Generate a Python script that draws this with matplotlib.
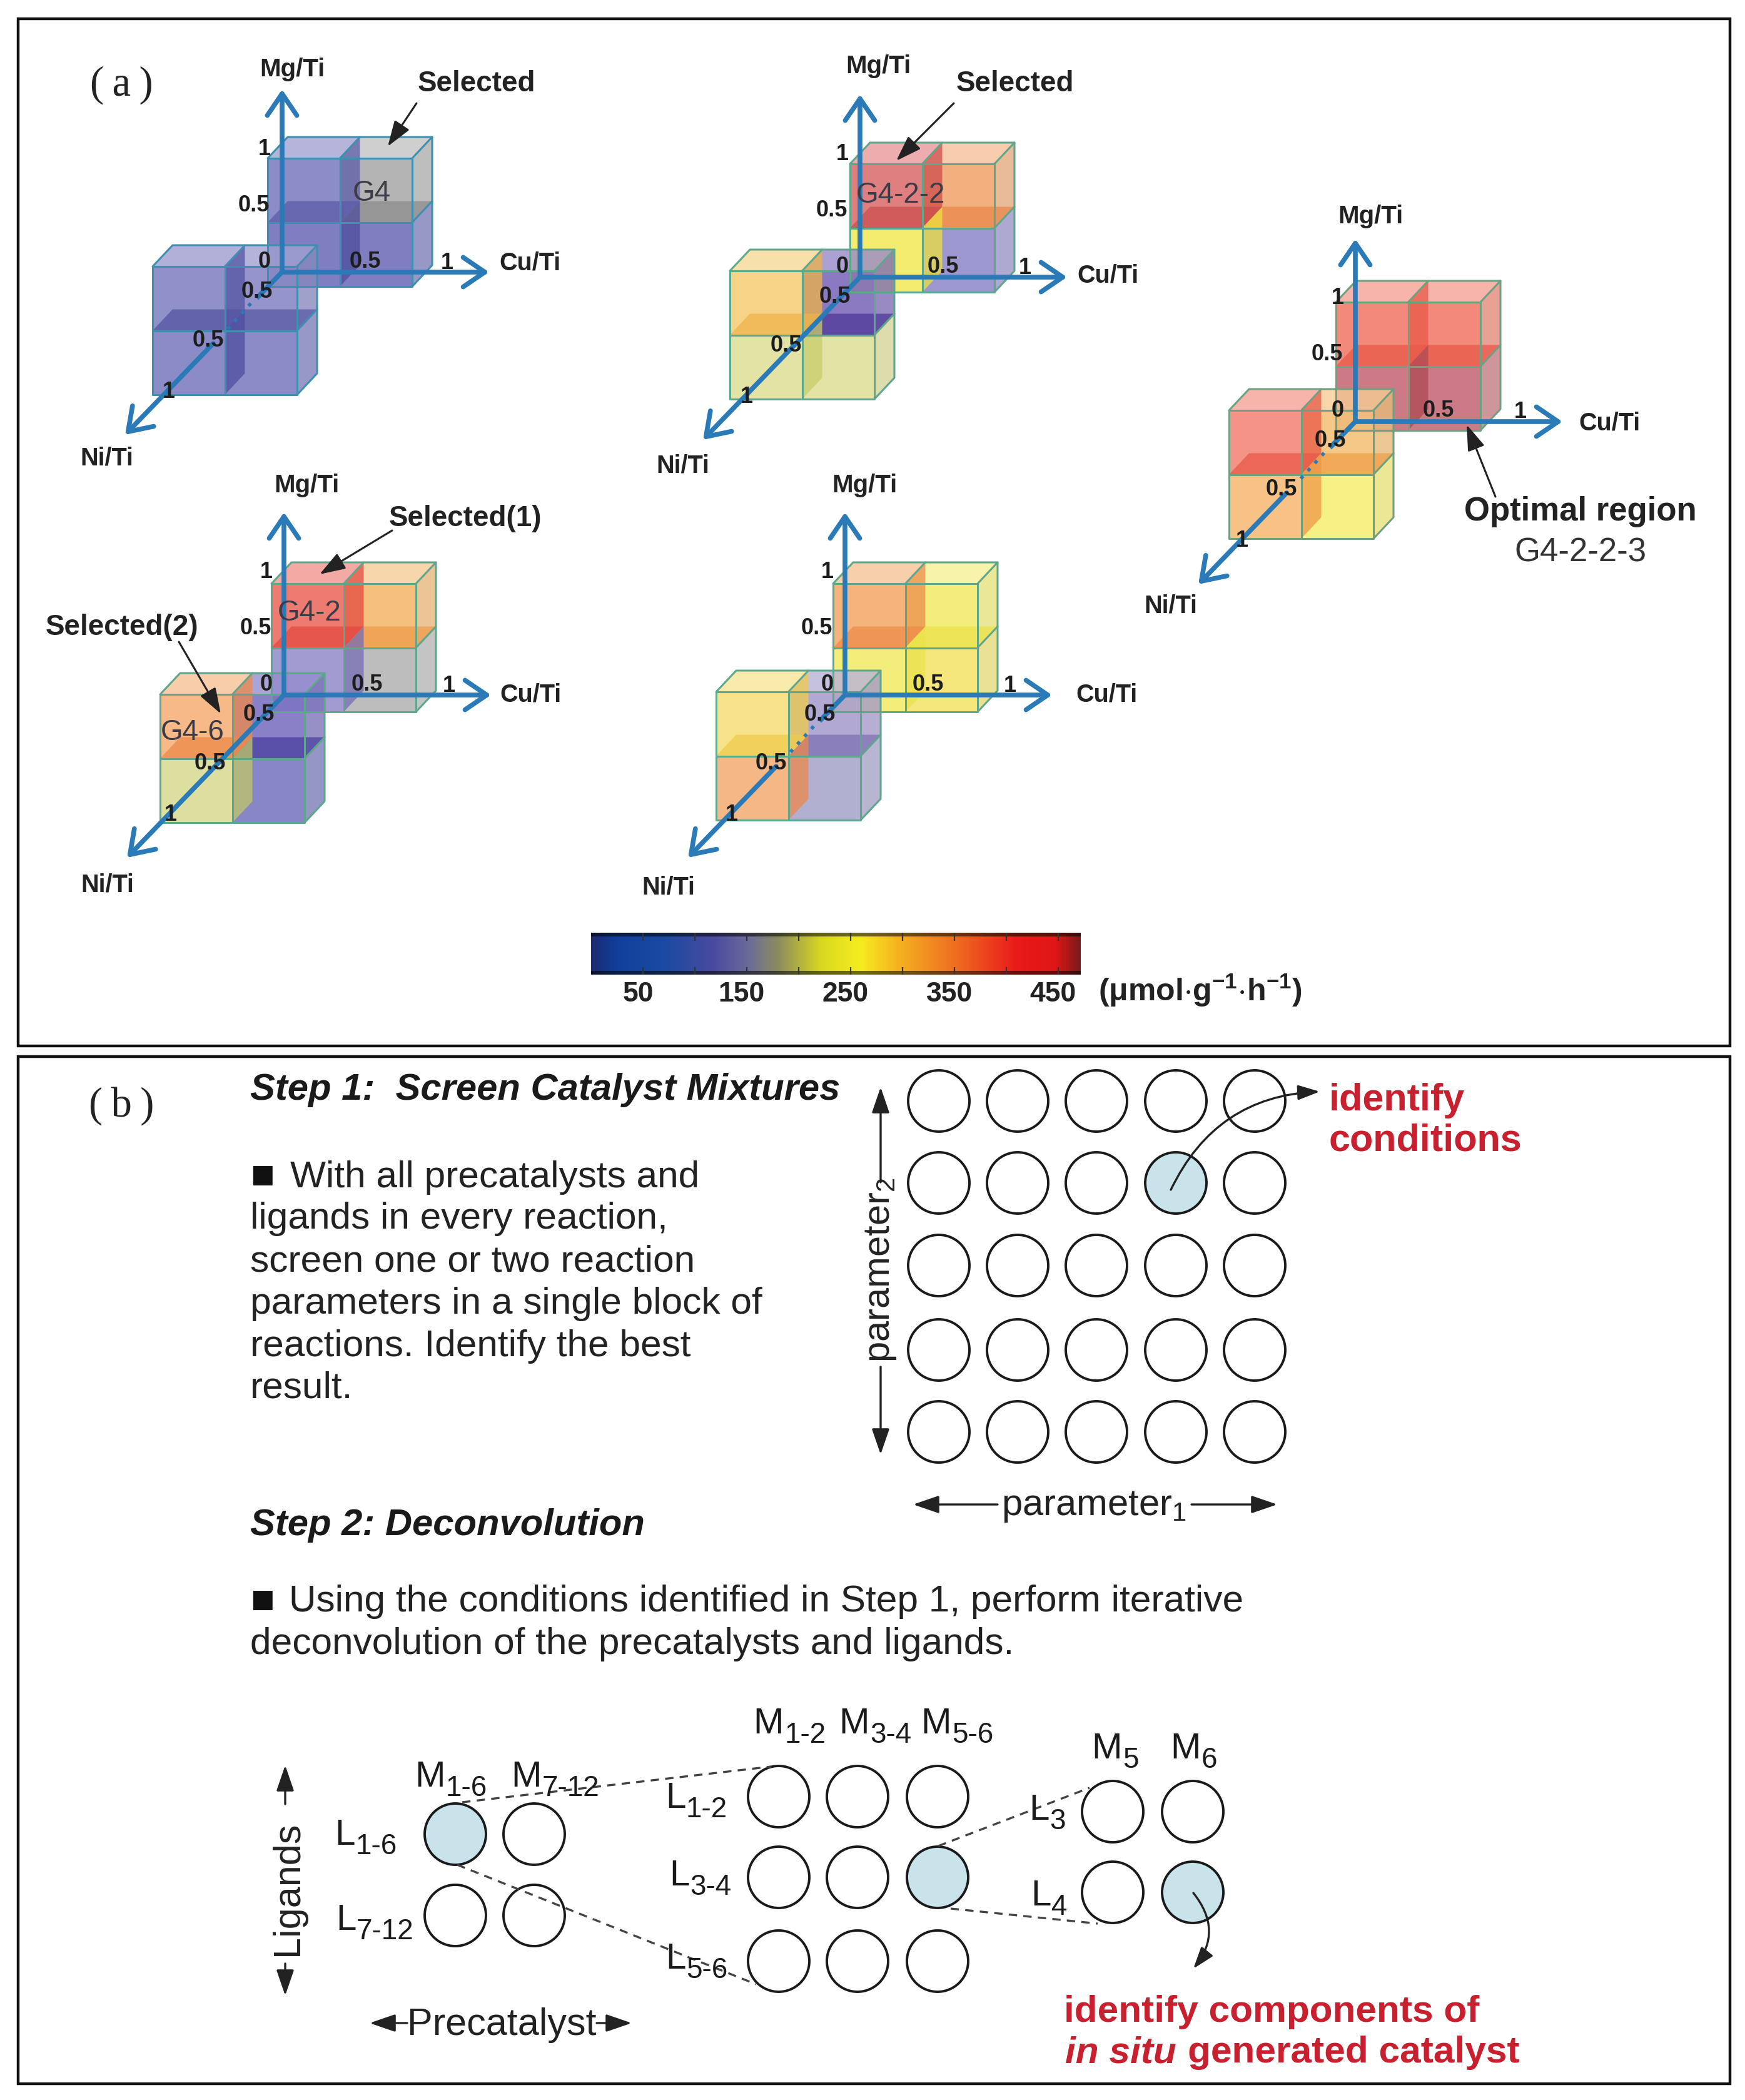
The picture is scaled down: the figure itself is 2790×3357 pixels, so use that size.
import numpy as np
import matplotlib
matplotlib.use('Agg')
import matplotlib.pyplot as plt
from matplotlib.patches import Polygon, Circle, FancyArrowPatch, Rectangle
from matplotlib.colors import LinearSegmentedColormap, Normalize, to_rgb
from matplotlib.cm import ScalarMappable
from matplotlib.transforms import ScaledTranslation

plt.rcParams['font.family'] = ['Liberation Sans', 'DejaVu Sans']
plt.rcParams['mathtext.fontset'] = 'custom'
plt.rcParams['mathtext.rm'] = 'Liberation Sans'
plt.rcParams['mathtext.bf'] = 'Liberation Sans:bold'
plt.rcParams['mathtext.it'] = 'Liberation Sans:italic'
plt.rcParams['mathtext.default'] = 'regular'

W, H = 2790, 3357

#---------------------------------------------------------------------------------
# panel (a): five pairs of cubes, cell colours are UL, UR, LL, LR of each cube
#---------------------------------------------------------------------------------
origins = [(451, 435), (1375, 443), (2167, 674), (454, 1111), (1351, 1111)]
upper_corner = [(428, 253), (1359, 262), (2136, 483), (434, 933), (1332, 933)]
lower_corner = [(244, 426), (1167, 433), (1965, 656), (256, 1110), (1145, 1106)]
upper_cells = [
    ['#8c8cc8', '#b4b4b4', '#7e7ec0', '#7e7ec0'],
    ['#e07f7f', '#f2b07e', '#f3ec6e', '#9d97d0'],
    ['#f2897a', '#f2897a', '#cc7a85', '#cc7a85'],
    ['#ee7b72', '#f5bf7c', '#a19bd1', '#bdbdbd'],
    ['#f5b47c', '#f3ee7c', '#f3ee7c', '#f5e67c'],
]
lower_cells = [
    ['#8585c4', '#8a8ac6', '#7f7fc2', '#7f7fc2'],
    ['#f5cf7a', '#7f6bbb', '#dfe09a', '#dfe09a'],
    ['#f2897a', '#f5c27a', '#f5bc78', '#f5ef78'],
    ['#f5b27a', '#7c72c2', '#d9dc96', '#7a7ac0'],
    ['#f5df7c', '#a99fcf', '#f5b07a', '#aaa8cc'],
]
edge_colors = ['#3f8fb0', '#5fa78c', '#6fa080', '#5fa78c', '#5fa78c']
dotted_axis = [True, False, True, False, True]
mg_labels = [(467, 111), (1404, 106), (2191, 346), (490, 776), (1382, 776)]
cu_labels = [(847, 421), (1771, 441), (2573, 677), (848, 1110), (1769, 1110)]
ni_labels = [(171, 732), (1092, 745), (1872, 969), (172, 1415), (1069, 1419)]
axis_ticks = ['1', '0.5', '0', '0.5', '1', '0.5', '0.5', '1']
axis_tick_offsets = [(-28, -197), (-45, -107), (-28, -17), (133, -17),
                     (264, -15), (-40, 31), (-118, 109), (-181, 191)]
block_labels = ['G4', 'G4-2-2', 'G4-2', 'G4-6']
block_label_xy = [(594, 309), (1440, 312), (495, 980), (308, 1171)]
callouts = ['Selected', 'Selected', 'Selected(1)', 'Selected(2)']
callout_xy = [(762, 134), (1623, 134), (744, 829), (195, 1003)]
callout_start = [(666, 165), (1525, 165), (627, 848), (286, 1026)]
callout_tip = [(620, 234), (1433, 257), (511, 918), (353, 1141)]

cbar_ticks = [50, 100, 150, 200, 250, 300, 350, 400, 450]
cbar_labels = ['50', '', '150', '', '250', '', '350', '', '450']
cbar_stops = [0, 0.05, 0.15, 0.25, 0.32, 0.38, 0.47, 0.55, 0.63, 0.75, 0.87, 0.95, 1]
cbar_colors = ['#1c2a6e', '#0f3f9b', '#1a4aa0', '#4a4a9f', '#6a6a9a', '#8a8a60', '#d8d820',
               '#f5ec20', '#f5b020', '#ee6a20', '#e81a1a', '#e01515', '#7a1a1a']

#---------------------------------------------------------------------------------
# panel (b)
#---------------------------------------------------------------------------------
step1_lines = ['With all precatalysts and', 'ligands in every reaction,',
               'screen one or two reaction', 'parameters in a single block of',
               'reactions. Identify the best', 'result.']
step1_x = [464, 400, 400, 400, 400, 400]
step1_y = [1882, 1949, 2017, 2084, 2152, 2219]
step2_lines = ['Using the conditions identified in Step 1, perform iterative',
               'deconvolution of the precatalysts and ligands.']
step2_x = [462, 400]
step2_y = [2561, 2629]
bullet_y = [1882, 2561]
grid_x = [1501, 1627, 1753, 1880, 2006]
grid_y = [1760, 1891, 2023, 2158, 2289]
block1_x, block1_y = [728, 854], [2932, 3062]
block2_x, block2_y = [1245, 1371, 1499], [2872, 3001, 3135]
block3_x, block3_y = [1779, 1907], [2896, 3025]
highlighted = [(1880, 1891), (728, 2932), (1499, 3001), (1907, 3025)]
dashed_from = [(739, 2881), (731, 2981), (1500, 2951), (1520, 3051)]
dashed_to = [(1233, 2824), (1209, 3172), (1742, 2858), (1755, 3075)]
m_labels = ['1-6', '7-12', '1-2', '3-4', '5-6', '5', '6']
m_label_xy = [(663, 2856), (817, 2856), (1204, 2771), (1341, 2771), (1472, 2771), (1745, 2811), (1871, 2811)]
l_labels = ['1-6', '7-12', '1-2', '3-4', '5-6', '3', '4']
l_label_xy = [(535, 2949), (537, 3085), (1064, 2890), (1070, 3014), (1064, 3147), (1645, 2909), (1648, 3046)]

AXIS_BLUE = '#2a7ab8'
RED = '#c8202e'
DX, DY = 32, 34
CW, CH = 231, 205
HEAD = '->,head_length=0.5,head_width=0.34'
ARW = '-|>,head_length=0.7,head_width=0.24'


def mix(c, other, t):
    a, b = np.array(to_rgb(c)), np.array(to_rgb(other))
    return tuple(a * (1 - t) + b * t)


def deepen(c):
    return tuple(np.array(to_rgb(c)) ** 1.7)


def draw_cube(ax, left, top, cells, edge, front_alpha):
    xm, ym = left + CW / 2, top + CH / 2
    xs = [left, xm, left + CW]
    ys = [top, ym, top + CH]
    for col in range(2):
        ax.add_patch(Polygon([(xs[col], top), (xs[col] + DX, top - DY), (xs[col + 1] + DX, top - DY), (xs[col + 1], top)],
                             fc=mix(cells[col], 'white', 0.2), ec='none', alpha=0.8, zorder=2))
    for row in range(2):
        ax.add_patch(Polygon([(xs[2], ys[row]), (xs[2] + DX, ys[row] - DY), (xs[2] + DX, ys[row + 1] - DY), (xs[2], ys[row + 1])],
                             fc=mix(cells[2 * row + 1], '#808080', 0.12), ec='none', alpha=0.8, zorder=2))
        for col in range(2):
            ax.add_patch(Rectangle((xs[col], ys[row]), CW / 2, CH / 2, fc=cells[2 * row + col], ec='none',
                                   alpha=front_alpha, zorder=2))
    # inner slabs
    for col in range(2):
        ax.add_patch(Polygon([(xs[col], ym), (xs[col] + DX, ym - DY), (xs[col + 1] + DX, ym - DY), (xs[col + 1], ym)],
                             fc=deepen(cells[col]), ec='none', alpha=0.75, zorder=2))
    for row in range(2):
        ax.add_patch(Polygon([(xm, ys[row]), (xm + DX, ys[row] - DY), (xm + DX, ys[row + 1] - DY), (xm, ys[row + 1])],
                             fc=deepen(cells[2 * row]), ec='none', alpha=0.75, zorder=2))
    # edges
    segs = [[(left, top), (left + CW, top), (left + CW, top + CH), (left, top + CH), (left, top)],
            [(left, ym), (left + CW, ym)], [(xm, top), (xm, top + CH)],
            [(left, top), (left + DX, top - DY), (left + CW + DX, top - DY), (left + CW, top)],
            [(xm, top), (xm + DX, top - DY)],
            [(left + CW + DX, top - DY), (left + CW + DX, top + CH - DY), (left + CW, top + CH)],
            [(left + CW, ym), (left + CW + DX, ym - DY)]]
    for seg in segs:
        p = np.array(seg)
        ax.plot(p[:, 0], p[:, 1], color=edge, lw=2.2, zorder=3, solid_capstyle='round')


def draw_arrow(ax, start, tip, color, lw, style, scale, z=5, conn=None):
    kw = {}
    if conn:
        kw['connectionstyle'] = conn
    ax.add_patch(FancyArrowPatch(start, tip, arrowstyle=style, mutation_scale=scale, color=color, lw=lw,
                                 shrinkA=0, shrinkB=0, zorder=z, **kw))


def sub_label(ax, letter, sub, xy):
    # letter and subscript as two texts, mathtext subscripts come out too small here
    width = {'M': 49, 'L': 32}[letter]
    ax.text(xy[0], xy[1], letter, fontsize=42, color='#1a1a1a', ha='left', va='baseline', zorder=7)
    ax.text(xy[0] + width + 1, xy[1] + 15, sub, fontsize=33, color='#1a1a1a', ha='left', va='baseline', zorder=7)


fig = plt.figure(figsize=(W / 100, H / 100), dpi=100, facecolor='white')
ax = fig.add_axes([0, 0, 1, 1])
ax.set_xlim(0, W)
ax.set_ylim(H, 0)
ax.axis('off')

# panel frames
ax.add_patch(Rectangle((29, 30), 2737, 1642, fc='none', ec='#111111', lw=3.2))
ax.add_patch(Rectangle((29, 1689), 2737, 1642, fc='none', ec='#111111', lw=3.2))
serif = ['Liberation Serif', 'DejaVu Serif']
ax.text(194, 136, '(\u2009a\u2009)', family=serif, fontsize=48, ha='center', va='center', color='#222222')
ax.text(194, 1768, '(\u2009b\u2009)', family=serif, fontsize=48, ha='center', va='center', color='#222222')

# cube groups
for i in range(len(origins)):
    ox, oy = origins[i]
    draw_cube(ax, upper_corner[i][0], upper_corner[i][1], upper_cells[i], edge_colors[i], 1.0)
    draw_cube(ax, lower_corner[i][0], lower_corner[i][1], lower_cells[i], edge_colors[i], 0.9)
    draw_arrow(ax, (ox, oy), (ox, oy - 292), AXIS_BLUE, 5.5, HEAD, 50)
    draw_arrow(ax, (ox, oy), (ox + 331, oy), AXIS_BLUE, 5.5, HEAD, 50)
    tip = (ox - 251, oy + 260)
    if dotted_axis[i]:
        ax.plot([ox, ox - 38], [oy, oy + 39], color=AXIS_BLUE, lw=5.5, zorder=5)
        ax.plot([ox - 50, ox - 88], [oy + 50, oy + 92], color=AXIS_BLUE, lw=4, ls=(0, (1, 2)), zorder=5)
        draw_arrow(ax, (ox - 110, oy + 114), tip, AXIS_BLUE, 5.5, HEAD, 50)
    else:
        draw_arrow(ax, (ox, oy), tip, AXIS_BLUE, 5.5, HEAD, 50)
    for tick, off in zip(axis_ticks, axis_tick_offsets):
        ax.text(ox + off[0], oy + off[1], tick, fontsize=26, fontweight='bold', color='#1d1d1d',
                ha='center', va='center', zorder=6)
    ax.text(mg_labels[i][0], mg_labels[i][1], 'Mg/Ti', fontsize=29, fontweight='bold', color='#222222', ha='center', va='center')
    ax.text(cu_labels[i][0], cu_labels[i][1], 'Cu/Ti', fontsize=28.5, fontweight='bold', color='#222222', ha='center', va='center')
    ax.text(ni_labels[i][0], ni_labels[i][1], 'Ni/Ti', fontsize=28.5, fontweight='bold', color='#222222', ha='center', va='center')

for name, xy in zip(block_labels, block_label_xy):
    ax.text(xy[0], xy[1], name, fontsize=33, color='#3c3c48', ha='center', va='center', zorder=6)
for name, xy, a, b in zip(callouts, callout_xy, callout_start, callout_tip):
    ax.text(xy[0], xy[1], name, fontsize=33, fontweight='bold', color='#222222', ha='center', va='center', zorder=6)
    draw_arrow(ax, a, b, '#222222', 2.2, ARW, 36, z=6)

ax.text(2527, 818, 'Optimal region', fontsize=38, fontweight='bold', color='#222222', ha='center', va='center')
ax.text(2527, 883, 'G4-2-2-3', fontsize=38, color='#333333', ha='center', va='center')
draw_arrow(ax, (2391, 794), (2345, 679), '#222222', 2.2, ARW, 36, z=6)

# colour bar
cmap = LinearSegmentedColormap.from_list('rate', list(zip(cbar_stops, cbar_colors)))
cax = fig.add_axes([945 / W, 1 - 1558 / H, 783 / W, 67 / H])
cb = fig.colorbar(ScalarMappable(norm=Normalize(0, 472), cmap=cmap), cax=cax, orientation='horizontal')
cb.set_ticks(cbar_ticks)
cb.set_ticklabels(cbar_labels)
cb.outline.set_visible(False)
cax.tick_params(axis='x', top=True, bottom=True, direction='in', color='#333333', width=1.6, length=9, pad=8,
                labelsize=32)
for lab in cax.get_xticklabels():
    lab.set_fontweight('bold')
    lab.set_color('#222222')
    lab.set_transform(lab.get_transform() + ScaledTranslation(-0.08, 0, fig.dpi_scale_trans))
cax.add_patch(Rectangle((0, 0), 1, 0.09, transform=cax.transAxes, fc='black', alpha=0.55, ec='none'))
cax.add_patch(Rectangle((0, 0.91), 1, 0.09, transform=cax.transAxes, fc='black', alpha=0.55, ec='none'))
ax.text(1756, 1583, r'($\mathbf{\mu}$mol$\cdot$g$^{-1}$$\cdot$h$^{-1}$)', fontsize=36, fontweight='bold',
        color='#222222', ha='left', va='center')

# panel b text
ax.text(400, 1742, 'Step 1:  Screen Catalyst Mixtures', fontsize=43, fontweight='bold', style='italic',
        color='#1a1a1a', ha='left', va='center')
ax.text(400, 2438, 'Step 2: Deconvolution', fontsize=43, fontweight='bold', style='italic',
        color='#1a1a1a', ha='left', va='center')
for y in bullet_y:
    ax.text(400, y, '\u25a0', fontsize=46, color='#111111', ha='left', va='center')
for line, x, y in zip(step1_lines, step1_x, step1_y):
    ax.text(x, y, line, fontsize=43.5, color='#222222', ha='left', va='center')
for line, x, y in zip(step2_lines, step2_x, step2_y):
    ax.text(x, y, line, fontsize=43.5, color='#222222', ha='left', va='center')

# circle blocks
for xs_, ys_ in [(grid_x, grid_y), (block1_x, block1_y), (block2_x, block2_y), (block3_x, block3_y)]:
    for cy in ys_:
        for cx in xs_:
            fill = '#c9e3ea' if (cx, cy) in highlighted else 'white'
            ax.add_patch(Circle((cx, cy), 49, fc=fill, ec='#1a1a1a', lw=2.8, zorder=3))
for a, b in zip(dashed_from, dashed_to):
    ax.plot([a[0], b[0]], [a[1], b[1]], color='#444444', lw=2.4, ls=(0, (4, 3)), zorder=4)

for sub, xy in zip(m_labels, m_label_xy):
    sub_label(ax, 'M', sub, xy)
for sub, xy in zip(l_labels, l_label_xy):
    sub_label(ax, 'L', sub, xy)

# parameter arrows
ax.text(1408, 2030, r'parameter$_{2}$', fontsize=43, rotation=90, color='#222222', ha='center', va='center')
ax.text(1749, 2409, r'parameter$_{1}$', fontsize=43, color='#222222', ha='center', va='center')
draw_arrow(ax, (1408, 1890), (1408, 1738), '#222222', 2.4, ARW, 36)
draw_arrow(ax, (1408, 2185), (1408, 2325), '#222222', 2.4, ARW, 36)
draw_arrow(ax, (1595, 2405), (1460, 2405), '#222222', 2.4, ARW, 36)
draw_arrow(ax, (1905, 2405), (2042, 2405), '#222222', 2.4, ARW, 36)
draw_arrow(ax, (1872, 1902), (2110, 1745), '#222222', 2.4, ARW, 30, z=6, conn='arc3,rad=-0.3')
ax.text(2125, 1760, 'identify', fontsize=44, fontweight='bold', color=RED, ha='left', va='center')
ax.text(2125, 1824, 'conditions', fontsize=44, fontweight='bold', color=RED, ha='left', va='center')

# ligand / precatalyst labels
ax.text(460, 3019, 'Ligands', fontsize=44, rotation=90, color='#222222', ha='center', va='center')
ax.text(802, 3238, 'Precatalyst', fontsize=44, color='#222222', ha='center', va='center')
draw_arrow(ax, (456, 2884), (456, 2822), '#222222', 2.4, ARW, 36)
draw_arrow(ax, (456, 3139), (456, 3190), '#222222', 2.4, ARW, 36)
draw_arrow(ax, (651, 3234), (591, 3234), '#222222', 2.4, ARW, 36)
draw_arrow(ax, (954, 3234), (1010, 3234), '#222222', 2.4, ARW, 36)
draw_arrow(ax, (1908, 3026), (1908, 3147), '#222222', 2.4, ARW, 30, z=6, conn='arc3,rad=-0.4')

ax.text(1701, 3232, 'identify components of', fontsize=43.5, fontweight='bold', color=RED, ha='left', va='baseline')
ax.text(1703, 3297, 'in situ', fontsize=43.5, fontweight='bold', style='italic', color=RED, ha='left', va='baseline')
ax.text(1899, 3297, 'generated catalyst', fontsize=43.5, fontweight='bold', color=RED, ha='left', va='baseline')

fig.savefig('out.png', dpi=100)
